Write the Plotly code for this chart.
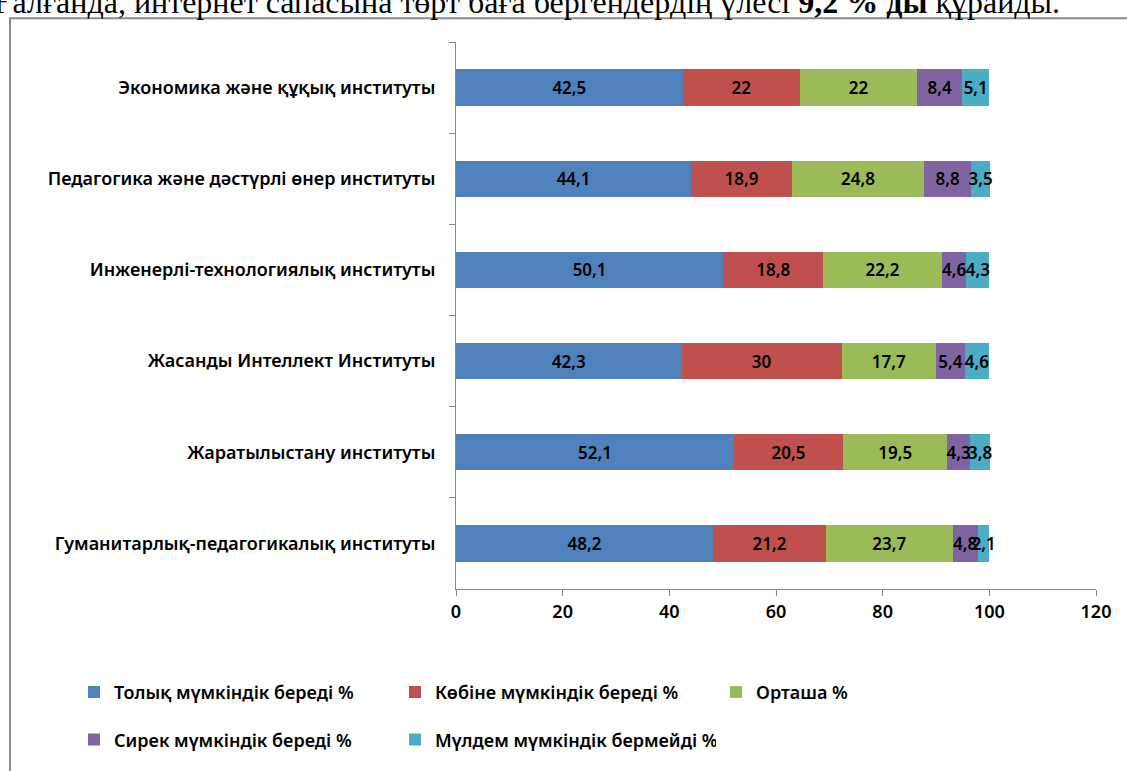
import plotly.graph_objects as go

categories = [
    "Экономика және құқық институты",
    "Педагогика және дәстүрлі өнер институты",
    "Инженерлі-технологиялық институты",
    "Жасанды Интеллект Институты",
    "Жаратылыстану институты",
    "Гуманитарлық-педагогикалық институты",
]
series_names = [
    "Толық мүмкіндік береді %",
    "Көбіне мүмкіндік береді %",
    "Орташа %",
    "Сирек мүмкіндік береді %",
    "Мүлдем мүмкіндік бермейді %",
]
full = [42.5, 44.1, 50.1, 42.3, 52.1, 48.2]
mostly = [22, 18.9, 18.8, 30, 20.5, 21.2]
medium = [22, 24.8, 22.2, 17.7, 19.5, 23.7]
rarely = [8.4, 8.8, 4.6, 5.4, 4.3, 4.8]
never = [5.1, 3.5, 4.3, 4.6, 3.8, 2.1]
x_ticks = [0, 20, 40, 60, 80, 100, 120]

colors = ["#4F81BD", "#C0504D", "#9BBB59", "#8064A2", "#4BACC6"]
legends = ["legend", "legend", "legend", "legend2", "legend2"]

W, H = 1127, 771
L, R, T, B = 456, 31, 42, 178
pw, ph = W - L - R, H - T - B

def px_x(p):
    return (p - L) / pw

def px_y(p):
    return (H - B - p) / ph

lab_font = dict(family="Noto Sans", size=18, color="black", weight=600)
bar_font = dict(family="Noto Sans", size=17, color="black", weight=600)

fig = go.Figure()
for name, vals, col, lg in zip(series_names, [full, mostly, medium, rarely, never], colors, legends):
    fig.add_trace(go.Bar(
        y=categories, x=vals, name=name, orientation="h",
        marker=dict(color=col, line=dict(width=0)),
        text=[f"{v:g}".replace(".", ",") for v in vals],
        textposition="inside", insidetextanchor="middle", textangle=0,
        constraintext="none", cliponaxis=False,
        textfont=bar_font,
        legend=lg,
    ))

leg_common = dict(orientation="h", xanchor="left", yanchor="middle", traceorder="normal",
                  entrywidth=276, entrywidthmode="pixels", font=lab_font,
                  itemwidth=30, bgcolor="rgba(0,0,0,0)")

fig.update_layout(
    barmode="stack", bargap=0.6,
    width=W, height=H,
    margin=dict(l=L, r=R, t=T, b=B),
    paper_bgcolor="white", plot_bgcolor="white",
    font=dict(family="Noto Sans", size=16, color="black"),
    legend=dict(x=px_x(74), y=px_y(697), **leg_common),
    legend2=dict(x=px_x(74), y=px_y(745), **leg_common),
    shapes=[dict(type="rect", xref="paper", yref="paper",
                 x0=px_x(10), x1=px_x(1140), y0=px_y(18), y1=px_y(790),
                 line=dict(color="#8c8c8c", width=2), layer="below")],
    annotations=[dict(
        text="Ғалғанда, интернет сапасына төрт баға бергендердің үлесі <b>9,2 % ды</b> құрайды.",
        xref="paper", yref="paper", x=px_x(-8), y=px_y(2), xanchor="left", yanchor="middle",
        showarrow=False, font=dict(family="Liberation Serif", size=32, color="black"),
    )],
)

fig.update_xaxes(range=[0, 120], tickvals=x_ticks, showgrid=False, zeroline=False,
                 showline=True, linecolor="#868686", linewidth=1, automargin=False,
                 ticks="outside", ticklen=6, tickcolor="#868686", tickfont=lab_font)
fig.update_yaxes(autorange="reversed", showgrid=False, zeroline=False,
                 showline=True, linecolor="#868686", linewidth=1, automargin=False,
                 ticks="outside", ticklen=6, tickcolor="#868686", tickfont=lab_font,
                 tickson="boundaries", ticklabelstandoff=16)

fig.write_html("out.html", config={"displayModeBar": False},
               post_script="document.body.style.margin = '0';")
